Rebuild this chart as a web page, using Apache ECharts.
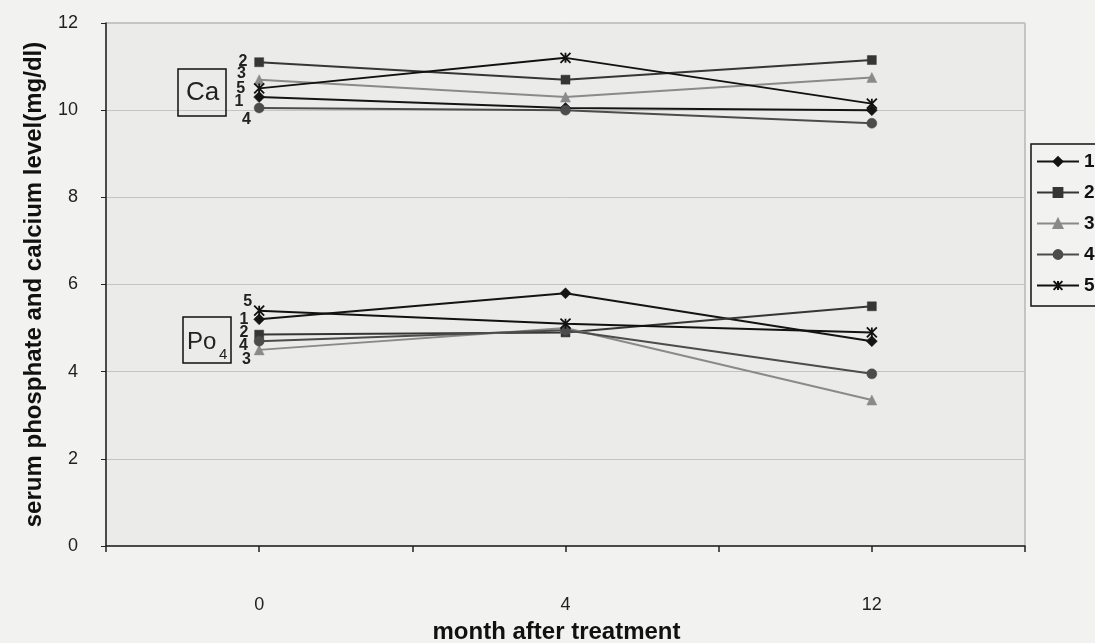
<!DOCTYPE html>
<html><head><meta charset="utf-8">
<script src="https://cdn.jsdelivr.net/npm/echarts@6/dist/echarts.min.js"></script>
<style>html,body{margin:0;padding:0;background:#f2f2f0;}#c{width:1095px;height:643px;}</style>
</head><body><div id="c"></div>
<script>
// ---- data ----
const months = ['0', '4', '12'];
const groupNames = ['1', '2', '3', '4', '5'];
const yMin = 0, yMax = 12, yStep = 2;
// serum calcium (mg/dl)
const ca1 = [10.3, 10.05, 10.0];
const ca2 = [11.1, 10.7, 11.15];
const ca3 = [10.7, 10.3, 10.75];
const ca4 = [10.05, 10.0, 9.7];
const ca5 = [10.5, 11.2, 10.15];
// serum phosphate (mg/dl)
const po1 = [5.2, 5.8, 4.7];
const po2 = [4.85, 4.9, 5.5];
const po3 = [4.5, 5.0, 3.35];
const po4 = [4.7, 4.95, 3.95];
const po5 = [5.4, 5.1, 4.9];

// ---- style ----
const FONT = "'Liberation Sans', Arial, sans-serif";
const colors = ['#141414', '#363636', '#8a8a8a', '#4c4c4c', '#111111'];
const symbols = ['diamond', 'rect', 'triangle', 'circle', 'path://M0,0L10,10M10,0L0,10M5,0L5,10'];
const symbolSizes = [11, 9, 10, 10, 10];
const borderWidths = [0.5, 0.5, 0.5, 0.5, 1.8];
const caLabelOffset = [[-5, 5], [-2, -1], [-3, -6], [2, 12], [-3, 0]];
const poLabelOffset = [[0, 0], [-1, -2], [2, 10], [-1, 4], [4, -9]];

const caData = [ca1, ca2, ca3, ca4, ca5];
const poData = [po1, po2, po3, po4, po5];

function buildSeries(values, i, offsets) {
  const data = values.map((v, k) => k === 0 ? {
    value: v,
    label: {
      show: true, position: 'left', distance: 5, offset: offsets[i],
      formatter: groupNames[i], fontFamily: FONT, fontWeight: 'bold', fontSize: 16, color: '#222'
    }
  } : v);
  return {
    type: 'line', name: groupNames[i], data: data,
    xAxisIndex: 0, yAxisIndex: 0,
    symbol: symbols[i], symbolSize: symbolSizes[i],
    lineStyle: { color: colors[i], width: 2 },
    itemStyle: { color: colors[i], borderColor: colors[i], borderWidth: borderWidths[i] },
    emphasis: { disabled: true },
    z: 3
  };
}

const series = [];
for (let i = 0; i < groupNames.length; i++) {
  series.push(buildSeries(caData[i], i, caLabelOffset));
  series.push(buildSeries(poData[i], i, poLabelOffset));
}

const chart = echarts.init(document.getElementById('c'), null, { renderer: 'canvas' });
chart.setOption({
  animation: false,
  backgroundColor: '#f2f2f0',
  textStyle: { fontFamily: FONT },
  grid: {
    left: 106, right: 70, top: 23, bottom: 97, outerBoundsMode: 'none', containLabel: false,
    show: true, backgroundColor: '#ebebea', borderColor: '#9a9a9a', borderWidth: 1
  },
  legend: {
    data: groupNames, orient: 'vertical', left: 1031, top: 144,
    itemWidth: 42, itemHeight: 11, itemGap: 12,
    textStyle: { fontFamily: FONT, fontWeight: 'bold', fontSize: 19, color: '#111' },
    borderColor: '#111', borderWidth: 1.5, padding: [8, 30, 11, 5],
    backgroundColor: '#f2f2f0', selectedMode: false
  },
  xAxis: [{
    type: 'category', data: months, boundaryGap: true,
    axisLine: { lineStyle: { color: '#222', width: 1.5 } },
    axisTick: { show: true, alignWithLabel: false, length: 6, lineStyle: { color: '#222', width: 1.5 } },
    axisLabel: { margin: 50, fontSize: 18, color: '#222', fontFamily: FONT },
    splitLine: { show: false },
    name: 'month after treatment', nameLocation: 'middle', nameGap: 74,
    nameTextStyle: { fontFamily: FONT, fontWeight: 'bold', fontSize: 24, color: '#111', padding: [0, 18, 0, 0] }
  }, {
    type: 'category', data: months, boundaryGap: true, position: 'bottom',
    axisLine: { show: false },
    axisTick: { show: true, alignWithLabel: true, length: 6, lineStyle: { color: '#222', width: 1.5 } },
    axisLabel: { show: false }, splitLine: { show: false }
  }],
  yAxis: {
    type: 'value', min: yMin, max: yMax, interval: yStep,
    axisLine: { show: true, lineStyle: { color: '#222', width: 1.5 } },
    axisTick: { show: true, length: 5, lineStyle: { color: '#222' } },
    axisLabel: { margin: 28, fontSize: 18, color: '#222', fontFamily: FONT },
    splitLine: { show: true, lineStyle: { color: '#c4c4c4', width: 1 } },
    name: 'serum phosphate and calcium level(mg/dl)', nameLocation: 'middle', nameGap: 60,
    nameTextStyle: { fontFamily: FONT, fontWeight: 'bold', fontSize: 24, color: '#111' }
  },
  graphic: [
    { type: 'rect', shape: { x: 178, y: 69, width: 48, height: 47 }, style: { fill: 'transparent', stroke: '#111', lineWidth: 1.5 }, z: 10 },
    { type: 'text', x: 186, y: 93, style: { text: 'Ca', font: '26px ' + FONT, fill: '#222', align: 'left', verticalAlign: 'middle' }, z: 10 },
    { type: 'rect', shape: { x: 183, y: 317, width: 48, height: 46 }, style: { fill: 'transparent', stroke: '#111', lineWidth: 1.5 }, z: 10 },
    { type: 'text', x: 187, y: 342, style: { text: 'Po', font: '24px ' + FONT, fill: '#222', align: 'left', verticalAlign: 'middle' }, z: 10 },
    { type: 'text', x: 219, y: 355, style: { text: '4', font: '15px ' + FONT, fill: '#222', align: 'left', verticalAlign: 'middle' }, z: 10 }
  ],
  series: series
});
</script></body></html>
